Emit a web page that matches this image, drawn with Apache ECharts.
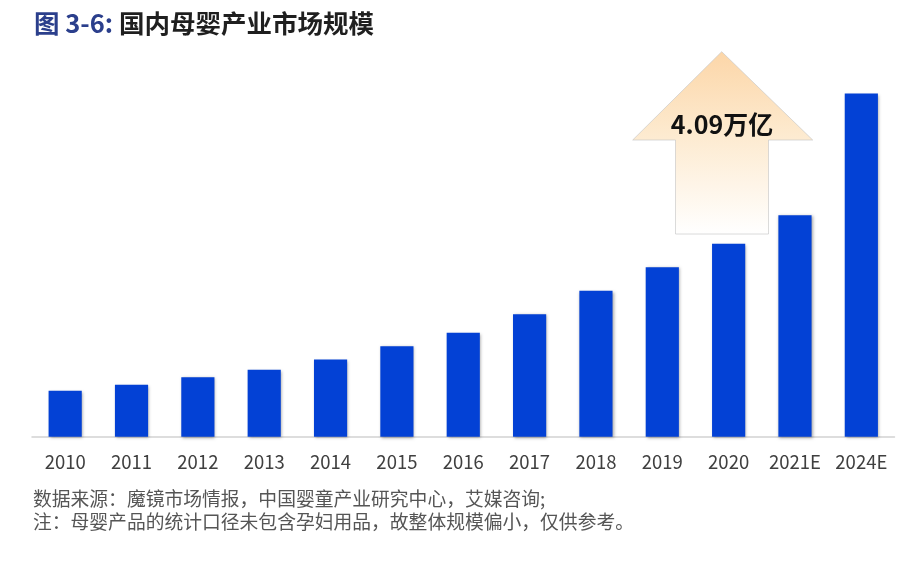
<!DOCTYPE html>
<html>
<head>
<meta charset="utf-8">
<script src="https://cdn.jsdelivr.net/npm/echarts@6/dist/echarts.min.js"></script>
<style>
  html, body { margin: 0; padding: 0; background: #fff; }
  #main { width: 919px; height: 563px; }
</style>
</head>
<body>
<div id="main"></div>
<script>
// 国内母婴产业市场规模（万亿元）
var years = ["2010", "2011", "2012", "2013", "2014", "2015", "2016", "2017", "2018", "2019", "2020", "2021E", "2024E"];
var scale = [0.55, 0.62, 0.71, 0.80, 0.92, 1.08, 1.24, 1.46, 1.74, 2.02, 2.30, 2.64, 4.09];
var arrowText = "4.09万亿";
var noteLines = [
  "数据来源：魔镜市场情报，中国婴童产业研究中心，艾媒咨询;",
  "注：母婴产品的统计口径未包含孕妇用品，故整体规模偏小，仅供参考。"
];

var chart = echarts.init(document.getElementById("main"));
var cjk = "'Noto Sans CJK SC', 'Noto Sans', sans-serif";

chart.setOption({
  backgroundColor: "#fff",
  animation: false,
  title: {
    left: 34,
    top: 11,
    padding: 0,
    text: "{a|图 3-6: }{b|国内母婴产业市场规模}",
    textStyle: {
      rich: {
        a: { fontSize: 25.5, fontWeight: "bold", color: "#2b3f8c", fontFamily: cjk },
        b: { fontSize: 25.5, fontWeight: "bold", color: "#1f1f1f", fontFamily: cjk }
      }
    }
  },
  grid: {
    left: 32,
    right: 24.5,
    top: 59.2,
    bottom: 126.2
  },
  xAxis: {
    type: "category",
    data: years,
    axisTick: { show: false },
    axisLine: { lineStyle: { color: "#d2d2d2", width: 1.5 } },
    axisLabel: {
      interval: 0,
      hideOverlap: false,
      color: "#404040",
      fontSize: 18.5,
      margin: 16,
      fontFamily: cjk
    }
  },
  yAxis: {
    type: "value",
    min: 0,
    max: 4.5,
    show: false,
    splitLine: { show: false }
  },
  series: [{
    type: "bar",
    data: scale,
    barWidth: "50%",
    itemStyle: {
      color: "#0341d5",
      shadowColor: "rgba(0,0,0,0.35)",
      shadowBlur: 3,
      shadowOffsetX: 1,
      shadowOffsetY: 1
    }
  }],
  graphic: [
    {
      type: "polygon",
      z: 1,
      shape: {
        points: [[721.7, 51.7], [812.7, 140], [768.5, 140], [768.5, 234], [675.5, 234], [675.5, 140], [632.7, 140]]
      },
      style: {
        fill: new echarts.graphic.LinearGradient(0, 0, 0, 1, [
          { offset: 0, color: "#fcd6a8" },
          { offset: 0.45, color: "#fdeacf" },
          { offset: 1, color: "#ffffff" }
        ]),
        stroke: "rgba(195,195,195,0.6)",
        lineWidth: 1
      }
    },
    {
      type: "text",
      z: 2,
      x: 722,
      y: 124,
      style: {
        text: arrowText,
        fontSize: 25,
        fontWeight: "bold",
        fill: "#111",
        fontFamily: cjk,
        align: "center",
        verticalAlign: "middle"
      }
    },
    {
      type: "text",
      left: 33,
      top: 487,
      style: {
        text: noteLines.join("\n"),
        fontSize: 18.8,
        lineHeight: 23.5,
        fill: "#555",
        fontFamily: cjk
      }
    }
  ]
});
</script>
</body>
</html>
